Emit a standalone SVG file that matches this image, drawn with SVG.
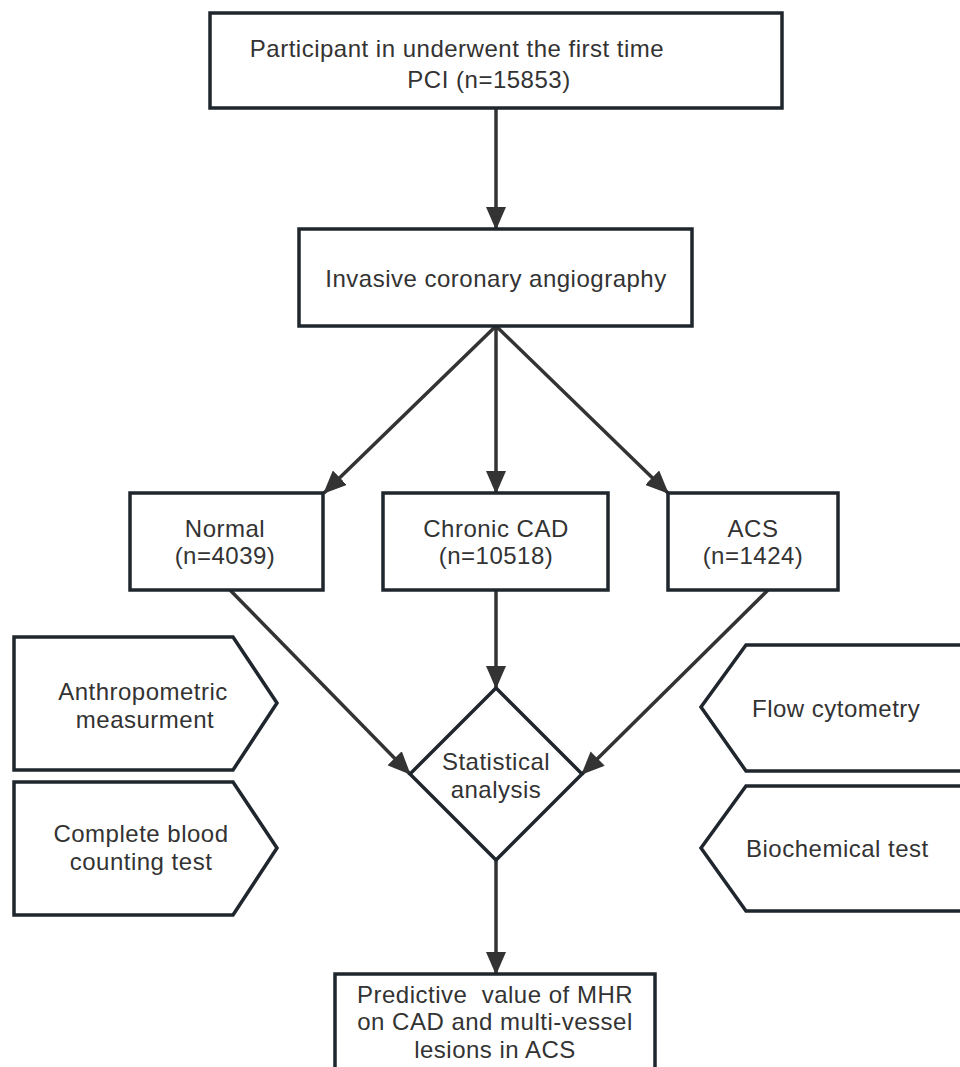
<svg xmlns="http://www.w3.org/2000/svg" width="960" height="1067" viewBox="0 0 960 1067">
<style>
.box{fill:#fff;stroke:#1f262d;stroke-width:3.5}
.ln{stroke:#333;stroke-width:3.5;fill:none}
text{font-family:"Liberation Sans",Arial,sans-serif;font-size:24px;letter-spacing:0.5px;fill:#333}
.c{text-anchor:middle}
</style>
<defs>
<marker id="ah" viewBox="0 0 23 20" refX="22" refY="10" markerWidth="23" markerHeight="20" markerUnits="userSpaceOnUse" orient="auto">
<path d="M0,0 L23,10 L0,20 z" fill="#333"/>
</marker>
</defs>
<rect width="960" height="1067" fill="#fff"/>
<g id="connectors">
<line class="ln" x1="496" y1="108" x2="496" y2="229" marker-end="url(#ah)"/>
<line class="ln" x1="496" y1="326" x2="324" y2="493" marker-end="url(#ah)"/>
<line class="ln" x1="496" y1="326" x2="496" y2="493" marker-end="url(#ah)"/>
<line class="ln" x1="496" y1="326" x2="668" y2="493" marker-end="url(#ah)"/>
<line class="ln" x1="230" y1="590" x2="410" y2="774" marker-end="url(#ah)"/>
<line class="ln" x1="496" y1="590" x2="496" y2="688" marker-end="url(#ah)"/>
<line class="ln" x1="768" y1="590" x2="582" y2="774" marker-end="url(#ah)"/>
<line class="ln" x1="496" y1="860" x2="496" y2="974" marker-end="url(#ah)"/>
</g>
<g id="n-participant">
<rect class="box" x="210" y="13" width="572" height="95"/>
<text class="c" x="457" y="57">Participant in underwent the first time</text>
<text class="c" x="489" y="88">PCI (n=15853)</text>
</g>
<g id="n-angiography">
<rect class="box" x="299" y="229" width="393" height="97"/>
<text class="c" x="496" y="287">Invasive coronary angiography</text>
</g>
<g id="n-normal">
<rect class="box" x="130" y="493" width="193" height="97"/>
<text class="c" x="225" y="537">Normal</text>
<text class="c" x="225" y="564">(n=4039)</text>
</g>
<g id="n-chronic">
<rect class="box" x="383" y="493" width="225" height="97"/>
<text class="c" x="496" y="537">Chronic CAD</text>
<text class="c" x="496" y="564">(n=10518)</text>
</g>
<g id="n-acs">
<rect class="box" x="668" y="493" width="170" height="97"/>
<text class="c" x="753" y="537">ACS</text>
<text class="c" x="753" y="564">(n=1424)</text>
</g>
<g id="n-anthropometric">
<path class="box" d="M14,637 L233,637 L277,703 L233,770 L14,770 Z"/>
<text class="c" x="143" y="700">Anthropometric</text>
<text class="c" x="145" y="728">measurment</text>
</g>
<g id="n-blood">
<path class="box" d="M14,782 L233,782 L277,848 L233,915 L14,915 Z"/>
<text class="c" x="141" y="842">Complete blood</text>
<text class="c" x="141" y="870">counting test</text>
</g>
<g id="n-flow">
<path class="box" d="M980,645 L746,645 L701,707 L746,771 L980,771"/>
<text x="752" y="717">Flow cytometry</text>
</g>
<g id="n-biochemical">
<path class="box" d="M980,786 L746,786 L701,848 L746,911 L980,911"/>
<text x="746" y="857">Biochemical test</text>
</g>
<g id="n-statistical">
<path class="box" d="M496,688 L582,774 L496,860 L410,774 Z"/>
<text class="c" x="496" y="770">Statistical</text>
<text class="c" x="496" y="798">analysis</text>
</g>
<g id="n-predictive">
<rect class="box" x="335" y="974" width="320" height="110"/>
<text class="c" x="495" y="1003" xml:space="preserve">Predictive  value of MHR</text>
<text class="c" x="495" y="1030">on CAD and multi-vessel</text>
<text class="c" x="495" y="1058">lesions in ACS</text>
</g>
</svg>
